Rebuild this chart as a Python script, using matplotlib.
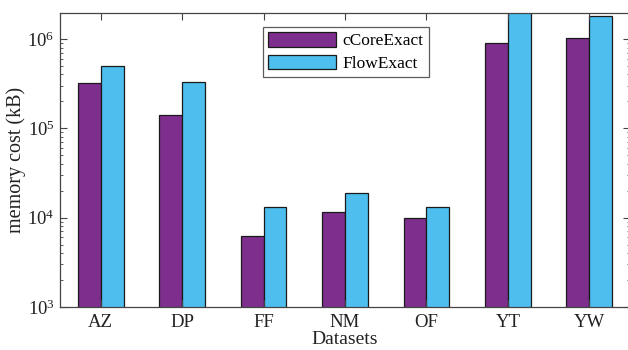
import matplotlib
matplotlib.use("Agg")
import matplotlib.pyplot as plt
import numpy as np
from matplotlib.ticker import LogLocator, NullFormatter

categories = ["AZ", "DP", "FF", "NM", "OF", "YT", "YW"]
ccore = [3.2e5, 1.41e5, 6.3e3, 1.15e4, 9.8e3, 9.1e5, 1.03e6]
flow = [5.0e5, 3.3e5, 1.31e4, 1.88e4, 1.31e4, 2.3e6, 1.82e6]
series_names = ["cCoreExact", "FlowExact"]

plt.rcParams['font.family'] = ['Liberation Serif', 'DejaVu Serif']
plt.rcParams['mathtext.fontset'] = 'stix'

fig = plt.figure(figsize=(6.28, 3.5), dpi=100)
ax = fig.add_axes([60/628, 43/350, 570/628, 294/350])

x = np.arange(1, len(categories) + 1)
w = 0.28
edge = "#1a1a1a"
ax.bar(x - w/2, ccore, width=w, color="#7E2F8E", edgecolor=edge, linewidth=0.9,
       label=series_names[0])
ax.bar(x + w/2, flow, width=w, color="#4DBEEE", edgecolor=edge, linewidth=0.9,
       label=series_names[1])

ax.set_yscale("log")
ax.set_ylim(1e3, 1.95e6)
ax.set_xlim(0.5, 7.5)
ax.set_xticks(x)
ax.set_xticklabels(categories)
ax.yaxis.set_major_locator(LogLocator(base=10, numticks=10))
ax.yaxis.set_minor_locator(LogLocator(base=10, subs=np.arange(2, 10), numticks=10))
ax.yaxis.set_minor_formatter(NullFormatter())

spine_c = "#444444"
for s in ax.spines.values():
    s.set_color(spine_c)
    s.set_linewidth(0.9)
ax.tick_params(axis='both', which='both', direction='in', top=True, right=True,
               colors=spine_c, labelcolor='#222222', labelsize=13.5)
ax.tick_params(axis='both', which='major', length=5)
ax.tick_params(axis='y', which='minor', length=2.5)
ax.tick_params(axis='x', which='major', pad=5)
ax.tick_params(axis='y', which='major', pad=4)

ax.set_ylabel("memory cost (kB)", fontsize=14.5, color='#222222', labelpad=1)
ax.set_xlabel("Datasets", fontsize=14, color='#222222', labelpad=0)

leg = fig.legend(loc='upper left', bbox_to_anchor=(263/628, 1 - 27/350),
                 fontsize=12.5, frameon=True, fancybox=False, edgecolor='#333333',
                 handlelength=3.9, handleheight=0.9, borderpad=0.3,
                 labelspacing=0.3, handletextpad=0.4, borderaxespad=0)
leg.get_frame().set_linewidth(0.9)

fig.savefig("out.png", dpi=100)
